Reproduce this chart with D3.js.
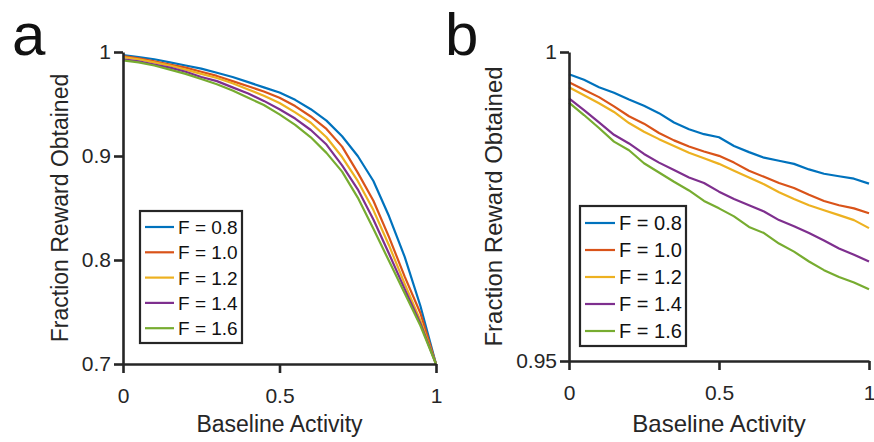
<!DOCTYPE html>
<html>
<head>
<meta charset="utf-8">
<script src="https://cdn.jsdelivr.net/npm/d3@7"></script>
<style>
  body { margin: 0; background: #fff; }
  text { font-family: "Liberation Sans", Arial, sans-serif; fill: #262626; }
</style>
</head>
<body>
<div id="chart"></div>
<script>
// baseline activity grid (0 .. 1, step 0.05)
const baseline = [0, 0.05, 0.1, 0.15, 0.2, 0.25, 0.3, 0.35, 0.4, 0.45, 0.5,
  0.55, 0.6, 0.65, 0.7, 0.75, 0.8, 0.85, 0.9, 0.95, 1];

const fLabels = ["F = 0.8", "F = 1.0", "F = 1.2", "F = 1.4", "F = 1.6"];
const colors = ["#0072BD", "#D95319", "#EDB120", "#7E2F8E", "#77AC30"];

// panel a
const aF08 = [0.997,0.995,0.993,0.990,0.987,0.984,0.980,0.976,0.971,0.966,0.961,0.954,0.945,0.934,0.919,0.900,0.876,0.842,0.803,0.756,0.700];
const aF10 = [0.996,0.994,0.991,0.988,0.985,0.981,0.977,0.972,0.967,0.962,0.956,0.948,0.938,0.926,0.909,0.884,0.857,0.822,0.784,0.749,0.700];
const aF12 = [0.995,0.993,0.990,0.987,0.983,0.979,0.975,0.970,0.964,0.958,0.951,0.942,0.932,0.918,0.899,0.876,0.848,0.814,0.777,0.742,0.700];
const aF14 = [0.993,0.991,0.988,0.985,0.981,0.976,0.972,0.966,0.960,0.953,0.945,0.936,0.925,0.911,0.891,0.868,0.839,0.806,0.772,0.739,0.700];
const aF16 = [0.992,0.990,0.987,0.983,0.979,0.974,0.969,0.963,0.956,0.949,0.940,0.930,0.918,0.903,0.885,0.860,0.830,0.799,0.768,0.737,0.700];

// panel b (zoomed)
const bF08 = [0.9964,0.9955,0.9943,0.9934,0.9923,0.9913,0.9901,0.9886,0.9875,0.9867,0.9862,0.9848,0.9838,0.9829,0.9824,0.9819,0.9810,0.9803,0.9799,0.9795,0.9787];
const bF10 = [0.9951,0.9939,0.9927,0.9912,0.9896,0.9884,0.9869,0.9857,0.9847,0.9839,0.9832,0.9821,0.9808,0.9798,0.9788,0.9780,0.9769,0.9759,0.9752,0.9747,0.9739];
const bF12 = [0.9943,0.9930,0.9917,0.9903,0.9885,0.9871,0.9859,0.9848,0.9837,0.9828,0.9819,0.9808,0.9797,0.9786,0.9773,0.9762,0.9752,0.9744,0.9736,0.9728,0.9715];
const bF14 = [0.9925,0.9906,0.9886,0.9866,0.9852,0.9835,0.9821,0.9809,0.9797,0.9788,0.9774,0.9762,0.9752,0.9742,0.9728,0.9718,0.9707,0.9695,0.9682,0.9672,0.9661];
const bF16 = [0.9918,0.9898,0.9877,0.9855,0.9841,0.9820,0.9805,0.9790,0.9776,0.9759,0.9747,0.9734,0.9717,0.9707,0.9690,0.9677,0.9661,0.9647,0.9636,0.9627,0.9616];

const xTicks = [0, 0.5, 1];
const aYTicks = [0.7, 0.8, 0.9, 1];
const bYTicks = [0.95, 1];

const W = 874, H = 442;
const axisColor = "#262626";

const svg = d3.select("#chart").append("svg")
  .attr("width", W)
  .attr("height", H);

const panels = [
  {
    letter: "a", letterX: 12,
    xRange: [123, 436], yRange: [364, 52],
    yDomain: [0.7, 1], yTicks: aYTicks,
    series: [aF08, aF10, aF12, aF14, aF16],
    legend: { x: 140, y: 211, w: 102, h: 132, row0: 227, rowStep: 25.3, line: 29, fontSize: 19 },
    titleX: 68, titleSize: 23
  },
  {
    letter: "b", letterX: 445,
    xRange: [569, 869], yRange: [361, 52],
    yDomain: [0.95, 1], yTicks: bYTicks,
    series: [bF08, bF10, bF12, bF14, bF16],
    legend: { x: 580, y: 206, w: 106, h: 140, row0: 223, rowStep: 27, line: 30, fontSize: 20 },
    titleX: 502, titleSize: 24
  }
];

panels.forEach(p => {
  const x = d3.scaleLinear().domain([0, 1]).range(p.xRange);
  const y = d3.scaleLinear().domain(p.yDomain).range(p.yRange);
  const g = svg.append("g");

  // curves
  const line = d3.line()
    .x((d, i) => x(baseline[i]))
    .y(d => y(d));

  p.series.forEach((s, i) => {
    g.append("path")
      .datum(s)
      .attr("fill", "none")
      .attr("stroke", colors[i])
      .attr("stroke-width", 2.2)
      .attr("stroke-linejoin", "round")
      .attr("d", line);
  });

  // axes
  const xAxis = g.append("g")
    .attr("transform", `translate(0,${p.yRange[0]})`)
    .call(d3.axisBottom(x)
      .tickValues(xTicks)
      .tickFormat(d3.format("~g"))
      .tickSizeInner(9)
      .tickSizeOuter(0)
      .tickPadding(15));

  const yAxis = g.append("g")
    .attr("transform", `translate(${p.xRange[0]},0)`)
    .call(d3.axisLeft(y)
      .tickValues(p.yTicks)
      .tickFormat(d3.format("~g"))
      .tickSizeInner(9)
      .tickSizeOuter(0)
      .tickPadding(3));

  [xAxis, yAxis].forEach(ax => {
    ax.select(".domain")
      .attr("stroke", axisColor)
      .attr("stroke-width", 2.6);
    ax.selectAll(".tick line")
      .attr("stroke", axisColor)
      .attr("stroke-width", 2.6);
    ax.selectAll(".tick text")
      .attr("fill", axisColor)
      .style("font-family", '"Liberation Sans", Arial, sans-serif')
      .style("font-size", "21px");
  });

  // axis titles
  g.append("text")
    .attr("x", (p.xRange[0] + p.xRange[1]) / 2)
    .attr("y", 432)
    .attr("text-anchor", "middle")
    .style("font-size", p.titleSize + "px")
    .text("Baseline Activity");

  g.append("text")
    .attr("transform", `translate(${p.titleX},${(p.yRange[0] + p.yRange[1]) / 2}) rotate(-90)`)
    .attr("text-anchor", "middle")
    .style("font-size", p.titleSize + "px")
    .text("Fraction Reward Obtained");

  // panel letter
  svg.append("text")
    .attr("x", p.letterX)
    .attr("y", 55)
    .style("font-size", "60px")
    .style("fill", "#111")
    .text(p.letter);

  // legend
  const L = p.legend;
  const lg = g.append("g");
  lg.append("rect")
    .attr("x", L.x).attr("y", L.y)
    .attr("width", L.w).attr("height", L.h)
    .attr("fill", "#fff")
    .attr("stroke", axisColor)
    .attr("stroke-width", 2.2);

  fLabels.forEach((lab, i) => {
    const cy = L.row0 + i * L.rowStep;
    lg.append("line")
      .attr("x1", L.x + 5).attr("x2", L.x + 5 + L.line)
      .attr("y1", cy).attr("y2", cy)
      .attr("stroke", colors[i])
      .attr("stroke-width", 2.2);
    lg.append("text")
      .attr("x", L.x + 9 + L.line)
      .attr("y", cy + 7)
      .style("font-size", L.fontSize + "px")
      .style("fill", "#111")
      .text(lab);
  });
});
</script>
</body>
</html>
